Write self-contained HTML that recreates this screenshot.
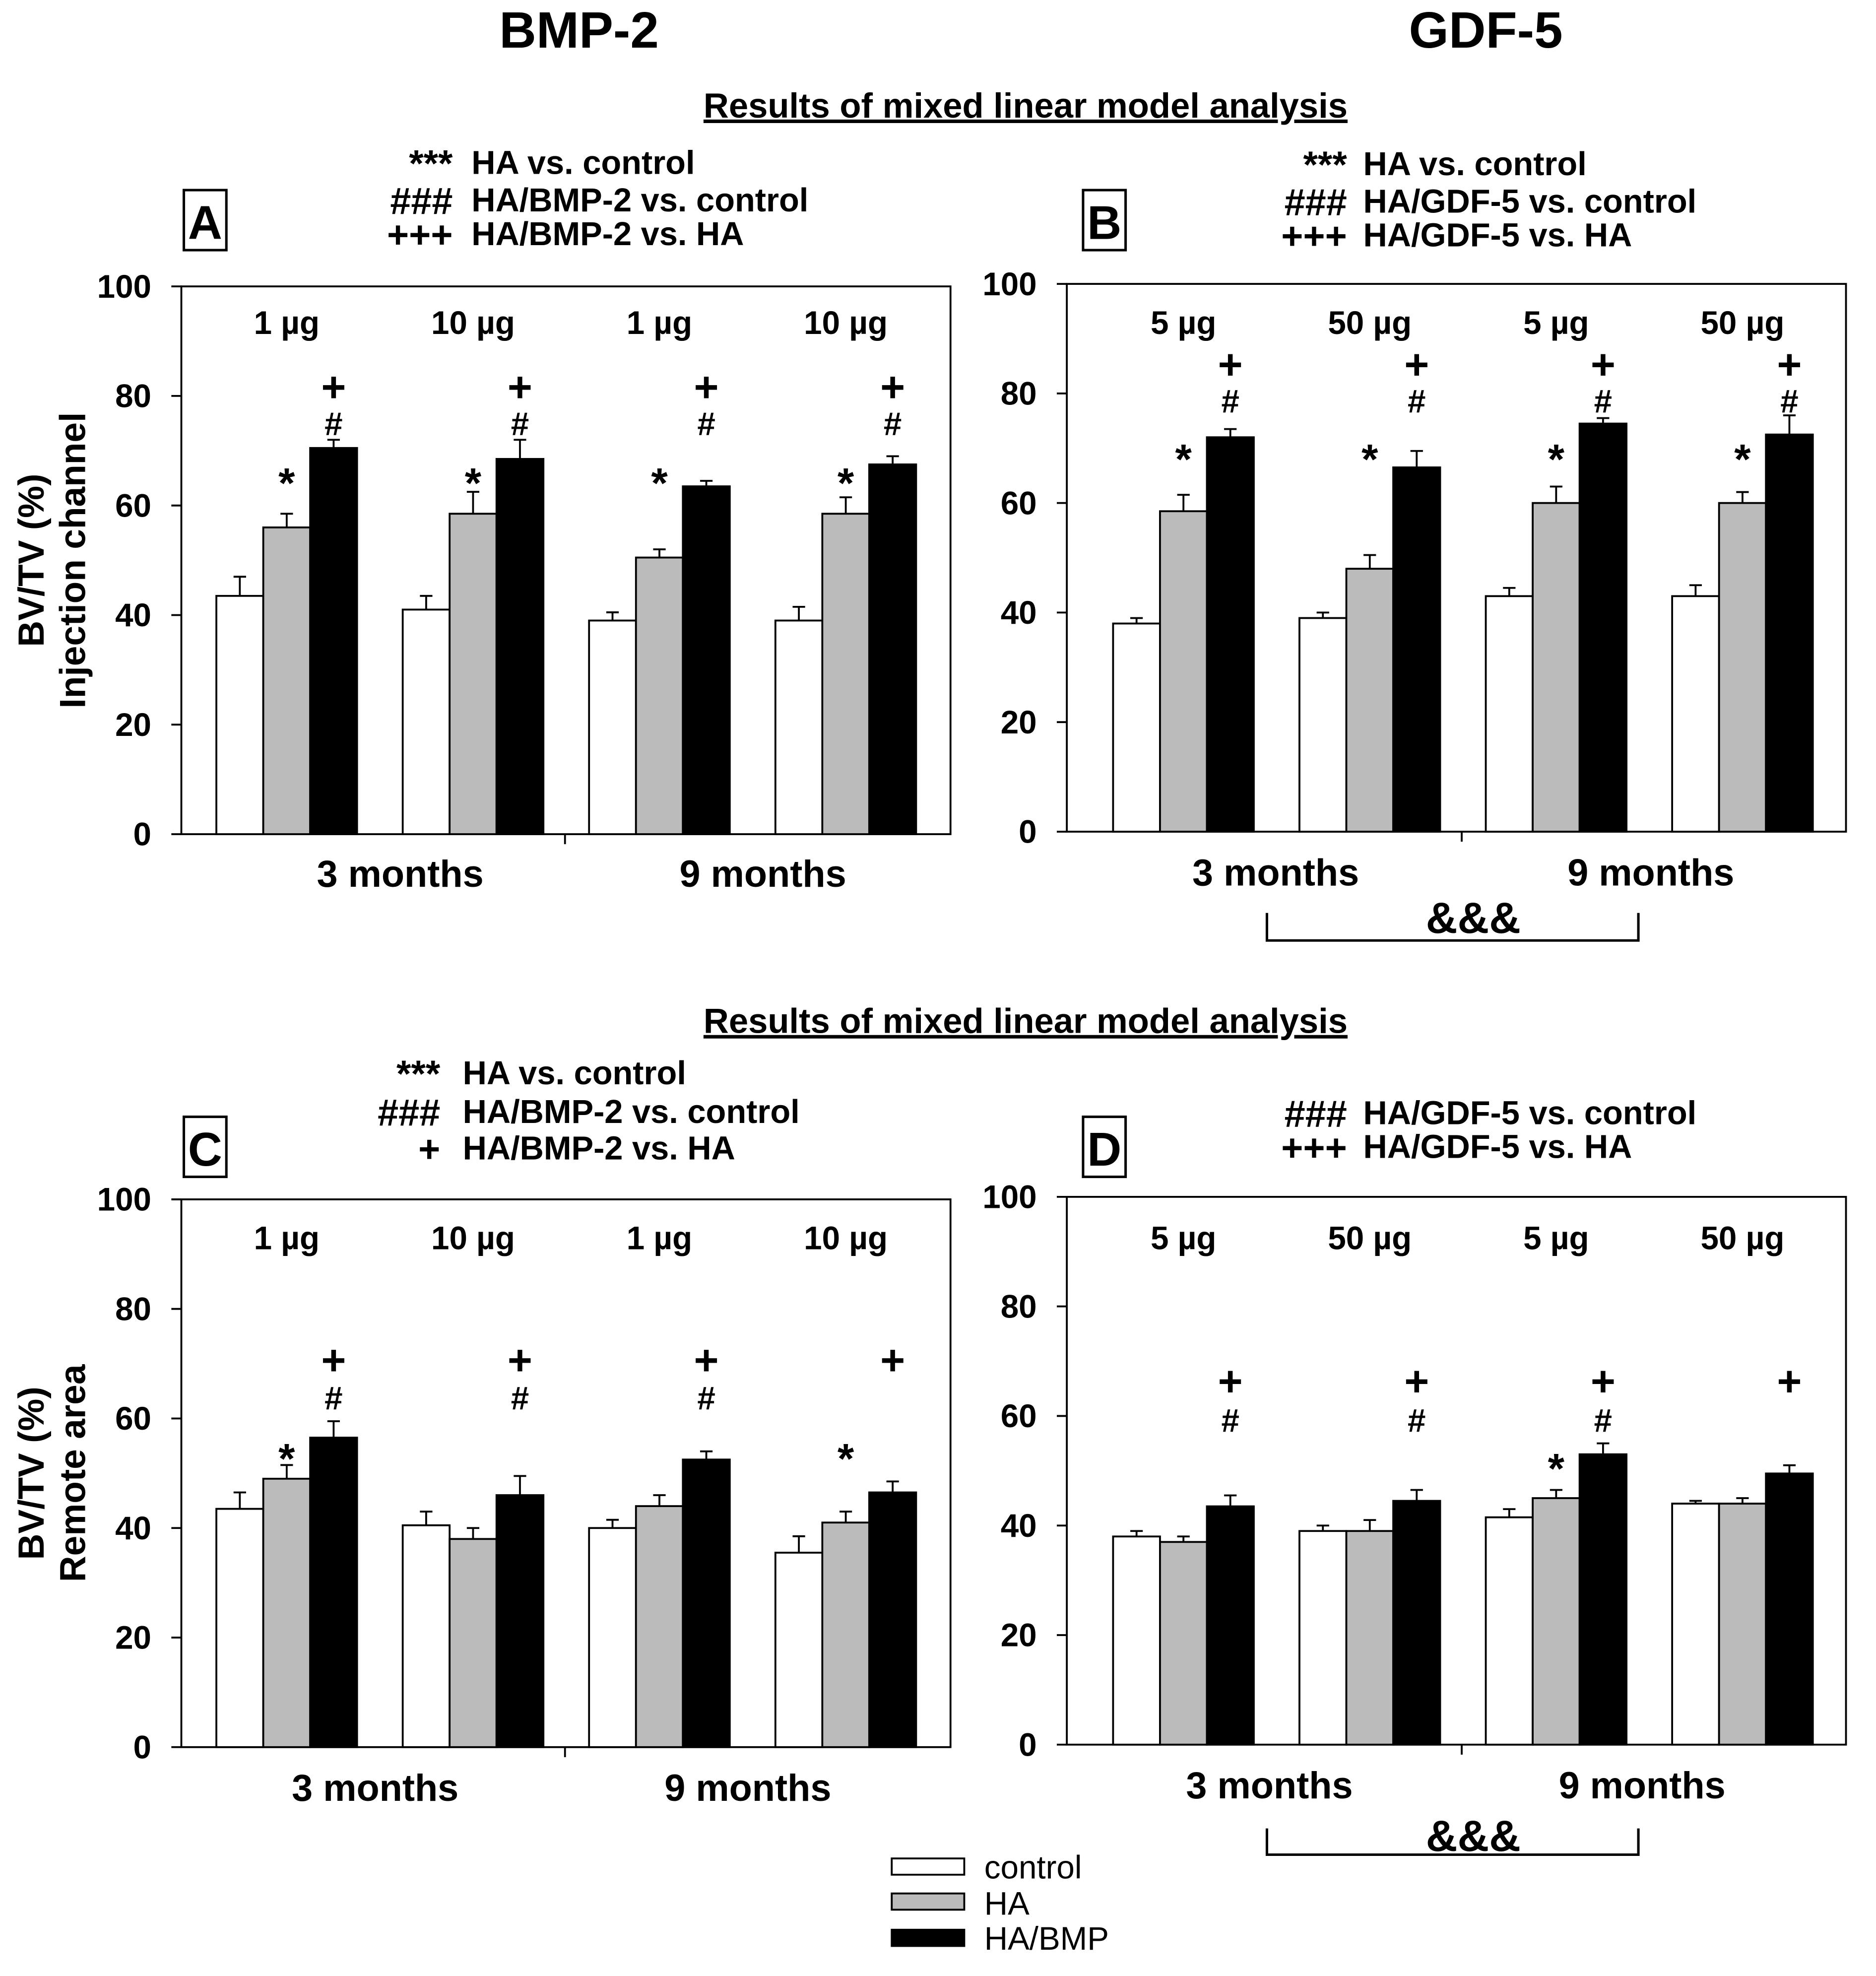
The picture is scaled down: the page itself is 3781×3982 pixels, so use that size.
<!DOCTYPE html>
<html><head><meta charset="utf-8"><style>
html,body{margin:0;padding:0;background:#fff}
svg{display:block;font-family:"Liberation Sans",Arial,sans-serif;font-weight:bold}
</style></head><body>
<svg id="fig" width="3781" height="3982" viewBox="0 0 1500 1580" preserveAspectRatio="none" xmlns="http://www.w3.org/2000/svg">
<rect width="1500" height="1580" fill="#fff"/>
<text x="463" y="38" font-size="41" text-anchor="middle">BMP-2</text>
<text x="1188" y="38" font-size="41" text-anchor="middle">GDF-5</text>
<text x="820" y="94" font-size="28" text-anchor="middle" text-decoration="underline">Results of mixed linear model analysis</text>
<text x="820" y="826" font-size="28" text-anchor="middle" text-decoration="underline">Results of mixed linear model analysis</text>
<g id="charts"></g>
<g font-size="26" font-weight="normal">
<rect x="713" y="1486" width="58" height="13" fill="#fff" stroke="#000" stroke-width="1.5"/>
<rect x="713" y="1514" width="58" height="13" fill="#bbb" stroke="#000" stroke-width="1.5"/>
<rect x="713" y="1543" width="58" height="13" fill="#000" stroke="#000" stroke-width="1.5"/>
<text x="787" y="1502">control</text>
<text x="787" y="1531">HA</text>
<text x="787" y="1559">HA/BMP</text>
</g>
</svg>
<script>
const seriesNames = ["control","HA","HA/BMP"];
const fills = ["#fff","#bbb","#000"];
const yTicks = [0,20,40,60,80,100];
const A_ctl=[43.5,41,39,39], A_ha=[56,58.5,50.5,58.5], A_bmp=[70.5,68.5,63.5,67.5];
const A_ctlE=[3.5,2.5,1.5,2.5], A_haE=[2.5,4,1.5,3], A_bmpE=[1.5,3.5,1,1.5];
const B_ctl=[38,39,43,43], B_ha=[58.5,48,60,60], B_bmp=[72,66.5,74.5,72.5];
const B_ctlE=[1,1,1.5,2], B_haE=[3,2.5,3,2], B_bmpE=[1.5,3,1,3.5];
const C_ctl=[43.5,40.5,40,35.5], C_ha=[49,38,44,41], C_bmp=[56.5,46,52.5,46.5];
const C_ctlE=[3,2.5,1.5,3], C_haE=[2.5,2,2,2], C_bmpE=[3,3.5,1.5,2];
const D_ctl=[38,39,41.5,44], D_ha=[37,39,45,44], D_bmp=[43.5,44.5,53,49.5];
const D_ctlE=[1,1,1.5,0.5], D_haE=[1,2,1.5,1], D_bmpE=[2,2,2,1.5];
const dosesBMP=["1 µg","10 µg","1 µg","10 µg"];
const dosesGDF=["5 µg","50 µg","5 µg","50 µg"];
const A_star=[1,1,1,1], A_hash=[1,1,1,1], A_plus=[1,1,1,1];
const B_star=[1,1,1,1], B_hash=[1,1,1,1], B_plus=[1,1,1,1];
const C_star=[1,0,0,1], C_hash=[1,1,1,0], C_plus=[1,1,1,1];
const D_star=[0,0,1,0], D_hash=[1,1,1,0], D_plus=[1,1,1,1];

const NS="http://www.w3.org/2000/svg";
const root=document.getElementById('charts');
function mk(tag,attrs,parent,text){const e=document.createElementNS(NS,tag);for(const k in attrs)e.setAttribute(k,attrs[k]);if(text!==undefined)e.textContent=text;parent.appendChild(e);return e;}

const panels=[
 {id:'a',letter:'A',x0:145,x1:760,yTop:229,yBot:667,g0:173,vals:[A_ctl,A_ha,A_bmp],errs:[A_ctlE,A_haE,A_bmpE],doses:dosesBMP,doseY:267,marks:[A_star,A_hash,A_plus],markY:[386,348,321],mLab:[320,610],mY:709,box:[147,152],leg:[["***","HA vs. control",130],["###","HA/BMP-2 vs. control",160],["+++","HA/BMP-2 vs. HA",187]],legX:[362,377],ylab:["BV/TV (%)","Injection channel"],bracket:false},
 {id:'b',letter:'B',x0:853,x1:1476,yTop:227,yBot:665,g0:890,vals:[B_ctl,B_ha,B_bmp],errs:[B_ctlE,B_haE,B_bmpE],doses:dosesGDF,doseY:267,marks:[B_star,B_hash,B_plus],markY:[367,330,303],mLab:[1020,1320],mY:708,box:[866,152],leg:[["***","HA vs. control",131],["###","HA/GDF-5 vs. control",161],["+++","HA/GDF-5 vs. HA",188]],legX:[1077,1090],ylab:null,bracket:[730,752,740]},
 {id:'c',letter:'C',x0:145,x1:760,yTop:959,yBot:1397,g0:173,vals:[C_ctl,C_ha,C_bmp],errs:[C_ctlE,C_haE,C_bmpE],doses:dosesBMP,doseY:999,marks:[C_star,C_hash,C_plus],markY:[1166,1127,1099],mLab:[300,598],mY:1440,box:[147,893],leg:[["***","HA vs. control",858],["###","HA/BMP-2 vs. control",889],["+","HA/BMP-2 vs. HA",918]],legX:[352,370],ylab:["BV/TV (%)","Remote area"],bracket:false},
 {id:'d',letter:'D',x0:853,x1:1476,yTop:957,yBot:1395,g0:890,vals:[D_ctl,D_ha,D_bmp],errs:[D_ctlE,D_haE,D_bmpE],doses:dosesGDF,doseY:999,marks:[D_star,D_hash,D_plus],markY:[1174,1145,1116],mLab:[1015,1313],mY:1438,box:[866,893],leg:[["###","HA/GDF-5 vs. control",890],["+++","HA/GDF-5 vs. HA",917]],legX:[1077,1090],ylab:null,bracket:[1462,1483,1474]}
];
const step=149, bw=37.5;
panels.forEach(p=>{
 const g=mk('g',{},root);
 
 
 const y=v=>p.yBot-(v/100)*(p.yBot-p.yTop);
 const fr=mk('rect',{x:p.x0,y:p.yTop,width:p.x1-p.x0,height:p.yBot-p.yTop,fill:'none',stroke:'#000','stroke-width':1.5},g);
 
 
 yTicks.forEach(t=>{
  mk('line',{x1:p.x0-8,x2:p.x0,y1:y(t),y2:y(t),stroke:'#000','stroke-width':1.5},g);
  const tl=mk('text',{x:p.x0-24,y:y(t)+9,'font-size':26,'text-anchor':'end'},g,String(t));
  
  
 });
 const tickX=p.g0+2*step-(step-3*bw)/2-1;
 mk('line',{x1:tickX,x2:tickX,y1:p.yBot,y2:p.yBot+8,stroke:'#000','stroke-width':1.5},g);
 for(let i=0;i<4;i++){
  const gx=p.g0+i*step;
  for(let s=0;s<3;s++){
   const v=p.vals[s][i], e=p.errs[s][i], bx=gx+s*bw;
   const cx=bx+bw/2;
   const el=mk('line',{x1:cx,x2:cx,y1:y(v),y2:y(v+e),stroke:'#000','stroke-width':1.5},g);
   
   
   mk('line',{x1:cx-5,x2:cx+5,y1:y(v+e),y2:y(v+e),stroke:'#000','stroke-width':1.5},g);
   const r=mk('rect',{x:bx,y:y(v),width:bw,height:p.yBot-y(v),fill:fills[s],stroke:'#000','stroke-width':1.5},g);
   
   
  }
  const d=mk('text',{x:gx+bw*1.5,y:p.doseY,'font-size':26,'text-anchor':'middle'},g,p.doses[i]);
  
  
  const syms=['*','#','+'];
  for(let m=0;m<3;m++){
   if(!p.marks[m][i]) continue;
   const mx=gx+(m===0?1:2)*bw+bw/2;
   const fs=m===0?34:m===1?26:34;
   const t=mk('text',{x:mx,y:p.markY[m]+(m===0?12:0),'font-size':fs,'text-anchor':'middle'},g,syms[m]);
   
   
  }
 }
 p.mLab.forEach((mx,k)=>{
  const t=mk('text',{x:mx,y:p.mY,'font-size':30,'text-anchor':'middle'},g,k===0?'3 months':'9 months');
  
  
 });
 const lb=mk('rect',{x:p.box[0],y:p.box[1],width:34,height:48,fill:'#fff',stroke:'#000','stroke-width':2},g);
 
 
 const lt=mk('text',{x:p.box[0]+17,y:p.box[1]+39,'font-size':38,'text-anchor':'middle'},g,p.letter);
 
 
 p.leg.forEach(l=>{
  const a=mk('text',{x:p.legX[0],y:l[2]+11,'font-size':30,'text-anchor':'end'},g,l[0]);
  
  
  const b=mk('text',{x:p.legX[1],y:l[2]+9,'font-size':26.5},g,l[1]);
  
  
 });
 if(p.ylab){
  const cy=(p.yTop+p.yBot)/2;
  const a=mk('text',{x:0,y:0,'font-size':29,'text-anchor':'middle',transform:`translate(35,${cy}) rotate(-90)`},g,p.ylab[0]);
  
  
  const b=mk('text',{x:0,y:0,'font-size':29,'text-anchor':'middle',transform:`translate(68,${cy}) rotate(-90)`},g,p.ylab[1]);
  
  
 }
 if(p.bracket){
  const [t0,t1,ty]=p.bracket;
  const br=mk('path',{d:`M1013 ${t0} V${t1} H1310 V${t0}`,fill:'none',stroke:'#000','stroke-width':2},g);
  
  
  const at=mk('text',{x:1178,y:ty+6,'font-size':35,'text-anchor':'middle'},g,'&&&');
  
  
 }
});
</script>
</body></html>
